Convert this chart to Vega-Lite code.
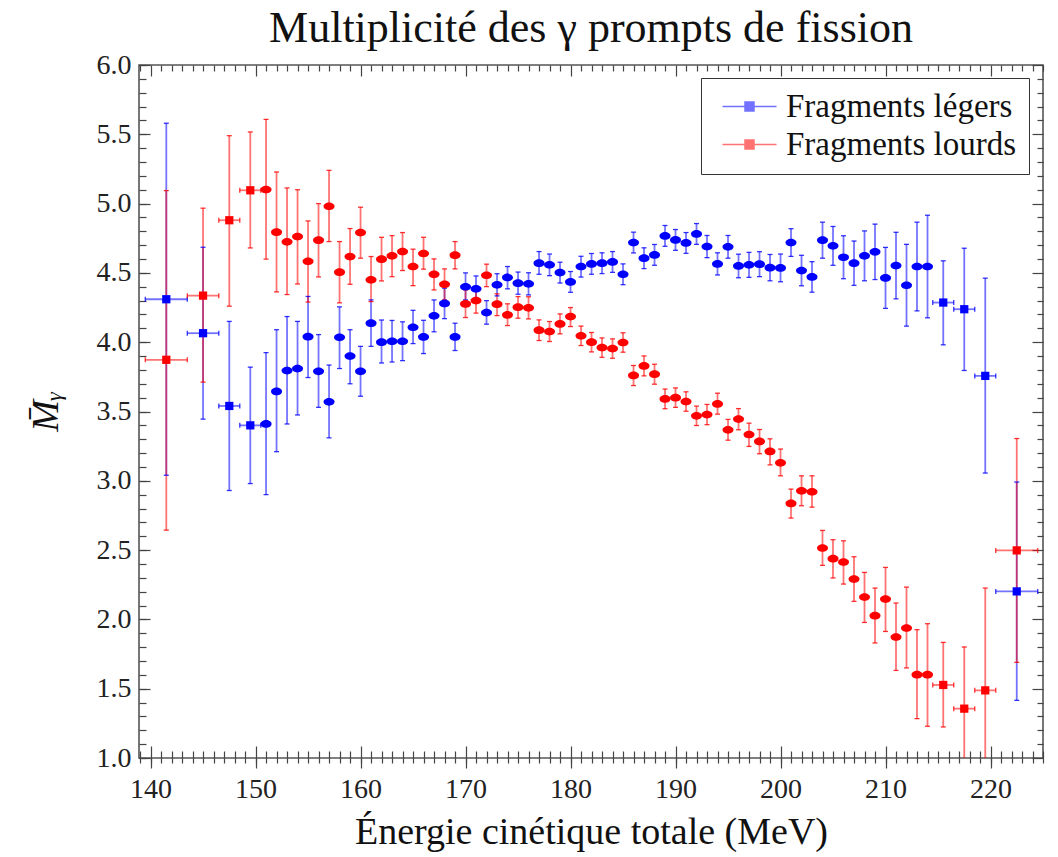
{
  "$schema": "https://vega.github.io/schema/vega-lite/v6.json",
  "autosize": {"type": "none"},
  "padding": {"left": 139, "top": 65, "right": 15, "bottom": 99},
  "width": 904,
  "height": 693,
  "background": "white",
  "title": {"text": "Multiplicité des γ prompts de fission", "font": "Liberation Serif", "fontSize": 44, "fontWeight": "normal", "color": "#111", "anchor": "middle", "baseline": "alphabetic", "offset": 26, "dy": 61},
  "config": {
    "view": {"stroke": "#555", "strokeWidth": 1.6},
    "axis": {"domain": false, "grid": false, "tickColor": "#444", "tickWidth": 1.2, "labelFont": "Liberation Serif", "titleFont": "Liberation Serif", "labelColor": "#222", "titleColor": "#111", "titleFontWeight": "normal", "labelFontSize": 28, "titleFontSize": 38},
    "legend": {"labelFont": "Liberation Serif", "labelFontSize": 33, "labelColor": "#111", "labelLimit": 500}
  },
  "datasets": {
    "d": [
      {"g":"Fragments légers","e":141.5,"m":4.31,"lo":3.04,"hi":5.58,"elo":139.5,"ehi":143.5},
      {"g":"Fragments légers","e":145,"m":4.065,"lo":3.445,"hi":4.685,"elo":143.5,"ehi":146.5},
      {"g":"Fragments légers","e":147.5,"m":3.54,"lo":2.93,"hi":4.15,"elo":146.5,"ehi":148.5},
      {"g":"Fragments légers","e":149.5,"m":3.40,"lo":2.98,"hi":3.82,"elo":148.5,"ehi":150.5},
      {"g":"Fragments légers","e":151,"m":3.41,"lo":2.90,"hi":3.925},
      {"g":"Fragments légers","e":152,"m":3.645,"lo":3.21,"hi":4.09},
      {"g":"Fragments légers","e":153,"m":3.795,"lo":3.41,"hi":4.185},
      {"g":"Fragments légers","e":154,"m":3.81,"lo":3.475,"hi":4.15},
      {"g":"Fragments légers","e":155,"m":4.04,"lo":3.745,"hi":4.33},
      {"g":"Fragments légers","e":156,"m":3.79,"lo":3.53,"hi":4.055},
      {"g":"Fragments légers","e":157,"m":3.57,"lo":3.31,"hi":3.835},
      {"g":"Fragments légers","e":158,"m":4.035,"lo":3.81,"hi":4.255},
      {"g":"Fragments légers","e":159,"m":3.90,"lo":3.70,"hi":4.09},
      {"g":"Fragments légers","e":160,"m":3.79,"lo":3.61,"hi":3.97},
      {"g":"Fragments légers","e":161,"m":4.137,"lo":3.97,"hi":4.305},
      {"g":"Fragments légers","e":162,"m":4.00,"lo":3.85,"hi":4.16},
      {"g":"Fragments légers","e":163,"m":4.007,"lo":3.857,"hi":4.157},
      {"g":"Fragments légers","e":164,"m":4.007,"lo":3.867,"hi":4.147},
      {"g":"Fragments légers","e":165,"m":4.108,"lo":3.99,"hi":4.23},
      {"g":"Fragments légers","e":166,"m":4.038,"lo":3.918,"hi":4.158},
      {"g":"Fragments légers","e":167,"m":4.19,"lo":4.075,"hi":4.305},
      {"g":"Fragments légers","e":168,"m":4.28,"lo":4.17,"hi":4.39},
      {"g":"Fragments légers","e":169,"m":4.038,"lo":3.94,"hi":4.137},
      {"g":"Fragments légers","e":170,"m":4.40,"lo":4.305,"hi":4.50},
      {"g":"Fragments légers","e":171,"m":4.385,"lo":4.293,"hi":4.478},
      {"g":"Fragments légers","e":172,"m":4.214,"lo":4.13,"hi":4.30},
      {"g":"Fragments légers","e":173,"m":4.414,"lo":4.334,"hi":4.494},
      {"g":"Fragments légers","e":174,"m":4.467,"lo":4.385,"hi":4.546},
      {"g":"Fragments légers","e":175,"m":4.426,"lo":4.346,"hi":4.506},
      {"g":"Fragments légers","e":176,"m":4.421,"lo":4.341,"hi":4.501},
      {"g":"Fragments légers","e":177,"m":4.57,"lo":4.49,"hi":4.654},
      {"g":"Fragments légers","e":178,"m":4.558,"lo":4.48,"hi":4.636},
      {"g":"Fragments légers","e":179,"m":4.502,"lo":4.427,"hi":4.577},
      {"g":"Fragments légers","e":180,"m":4.435,"lo":4.36,"hi":4.51},
      {"g":"Fragments légers","e":181,"m":4.546,"lo":4.47,"hi":4.62},
      {"g":"Fragments légers","e":182,"m":4.565,"lo":4.49,"hi":4.64},
      {"g":"Fragments légers","e":183,"m":4.57,"lo":4.495,"hi":4.645},
      {"g":"Fragments légers","e":184,"m":4.579,"lo":4.504,"hi":4.654},
      {"g":"Fragments légers","e":185,"m":4.49,"lo":4.415,"hi":4.565},
      {"g":"Fragments légers","e":186,"m":4.719,"lo":4.644,"hi":4.794},
      {"g":"Fragments légers","e":187,"m":4.606,"lo":4.531,"hi":4.681},
      {"g":"Fragments légers","e":188,"m":4.63,"lo":4.555,"hi":4.705},
      {"g":"Fragments légers","e":189,"m":4.767,"lo":4.692,"hi":4.842},
      {"g":"Fragments légers","e":190,"m":4.738,"lo":4.663,"hi":4.813},
      {"g":"Fragments légers","e":191,"m":4.716,"lo":4.641,"hi":4.791},
      {"g":"Fragments légers","e":192,"m":4.781,"lo":4.706,"hi":4.856},
      {"g":"Fragments légers","e":193,"m":4.69,"lo":4.61,"hi":4.77},
      {"g":"Fragments légers","e":194,"m":4.565,"lo":4.485,"hi":4.645},
      {"g":"Fragments légers","e":195,"m":4.688,"lo":4.606,"hi":4.77},
      {"g":"Fragments légers","e":196,"m":4.55,"lo":4.465,"hi":4.635},
      {"g":"Fragments légers","e":197,"m":4.558,"lo":4.468,"hi":4.648},
      {"g":"Fragments légers","e":198,"m":4.563,"lo":4.473,"hi":4.653},
      {"g":"Fragments légers","e":199,"m":4.538,"lo":4.443,"hi":4.633},
      {"g":"Fragments légers","e":200,"m":4.536,"lo":4.436,"hi":4.636},
      {"g":"Fragments légers","e":201,"m":4.719,"lo":4.619,"hi":4.819},
      {"g":"Fragments légers","e":202,"m":4.517,"lo":4.407,"hi":4.627},
      {"g":"Fragments légers","e":203,"m":4.471,"lo":4.361,"hi":4.581},
      {"g":"Fragments légers","e":204,"m":4.736,"lo":4.606,"hi":4.866},
      {"g":"Fragments légers","e":205,"m":4.695,"lo":4.555,"hi":4.835},
      {"g":"Fragments légers","e":206,"m":4.613,"lo":4.458,"hi":4.768},
      {"g":"Fragments légers","e":207,"m":4.57,"lo":4.41,"hi":4.73},
      {"g":"Fragments légers","e":208,"m":4.623,"lo":4.443,"hi":4.803},
      {"g":"Fragments légers","e":209,"m":4.652,"lo":4.452,"hi":4.852},
      {"g":"Fragments légers","e":210,"m":4.464,"lo":4.244,"hi":4.684},
      {"g":"Fragments légers","e":211,"m":4.553,"lo":4.313,"hi":4.793},
      {"g":"Fragments légers","e":212,"m":4.411,"lo":4.116,"hi":4.706},
      {"g":"Fragments légers","e":213,"m":4.546,"lo":4.226,"hi":4.866},
      {"g":"Fragments légers","e":214,"m":4.546,"lo":4.176,"hi":4.916},
      {"g":"Fragments légers","e":215.5,"m":4.286,"lo":3.981,"hi":4.587,"elo":214.5,"ehi":216.5},
      {"g":"Fragments légers","e":217.5,"m":4.238,"lo":3.796,"hi":4.678,"elo":216.5,"ehi":218.5},
      {"g":"Fragments légers","e":219.5,"m":3.757,"lo":3.056,"hi":4.462,"elo":218.5,"ehi":220.5},
      {"g":"Fragments légers","e":222.5,"m":2.202,"lo":1.416,"hi":2.991,"elo":220.5,"ehi":224.5},
      {"g":"Fragments lourds","e":141.5,"m":3.873,"lo":2.644,"hi":5.094,"elo":139.5,"ehi":143.5},
      {"g":"Fragments lourds","e":145,"m":4.336,"lo":3.712,"hi":4.967,"elo":143.5,"ehi":146.5},
      {"g":"Fragments lourds","e":147.5,"m":4.88,"lo":4.26,"hi":5.49,"elo":146.5,"ehi":148.5},
      {"g":"Fragments lourds","e":149.5,"m":5.096,"lo":4.68,"hi":5.517,"elo":148.5,"ehi":150.5},
      {"g":"Fragments lourds","e":151,"m":5.101,"lo":4.599,"hi":5.608},
      {"g":"Fragments lourds","e":152,"m":4.794,"lo":4.363,"hi":5.228},
      {"g":"Fragments lourds","e":153,"m":4.724,"lo":4.344,"hi":5.113},
      {"g":"Fragments lourds","e":154,"m":4.762,"lo":4.42,"hi":5.10},
      {"g":"Fragments lourds","e":155,"m":4.584,"lo":4.29,"hi":4.875},
      {"g":"Fragments lourds","e":156,"m":4.736,"lo":4.471,"hi":5.0},
      {"g":"Fragments lourds","e":157,"m":4.981,"lo":4.726,"hi":5.24},
      {"g":"Fragments lourds","e":158,"m":4.505,"lo":4.284,"hi":4.726},
      {"g":"Fragments lourds","e":159,"m":4.618,"lo":4.418,"hi":4.82},
      {"g":"Fragments lourds","e":160,"m":4.791,"lo":4.606,"hi":4.974},
      {"g":"Fragments lourds","e":161,"m":4.45,"lo":4.293,"hi":4.618},
      {"g":"Fragments lourds","e":162,"m":4.599,"lo":4.442,"hi":4.757},
      {"g":"Fragments lourds","e":163,"m":4.623,"lo":4.473,"hi":4.769},
      {"g":"Fragments lourds","e":164,"m":4.654,"lo":4.517,"hi":4.791},
      {"g":"Fragments lourds","e":165,"m":4.546,"lo":4.408,"hi":4.671},
      {"g":"Fragments lourds","e":166,"m":4.64,"lo":4.527,"hi":4.757},
      {"g":"Fragments lourds","e":167,"m":4.49,"lo":4.377,"hi":4.601},
      {"g":"Fragments lourds","e":168,"m":4.418,"lo":4.305,"hi":4.529},
      {"g":"Fragments lourds","e":169,"m":4.628,"lo":4.529,"hi":4.726},
      {"g":"Fragments lourds","e":170,"m":4.276,"lo":4.178,"hi":4.377},
      {"g":"Fragments lourds","e":171,"m":4.30,"lo":4.21,"hi":4.394},
      {"g":"Fragments lourds","e":172,"m":4.483,"lo":4.401,"hi":4.563},
      {"g":"Fragments lourds","e":173,"m":4.274,"lo":4.192,"hi":4.349},
      {"g":"Fragments lourds","e":174,"m":4.197,"lo":4.12,"hi":4.277},
      {"g":"Fragments lourds","e":175,"m":4.253,"lo":4.173,"hi":4.329},
      {"g":"Fragments lourds","e":176,"m":4.248,"lo":4.168,"hi":4.328},
      {"g":"Fragments lourds","e":177,"m":4.087,"lo":4.012,"hi":4.161},
      {"g":"Fragments lourds","e":178,"m":4.077,"lo":4.005,"hi":4.149},
      {"g":"Fragments lourds","e":179,"m":4.132,"lo":4.06,"hi":4.204},
      {"g":"Fragments lourds","e":180,"m":4.185,"lo":4.113,"hi":4.25},
      {"g":"Fragments lourds","e":181,"m":4.046,"lo":3.976,"hi":4.116},
      {"g":"Fragments lourds","e":182,"m":4.0,"lo":3.93,"hi":4.07},
      {"g":"Fragments lourds","e":183,"m":3.961,"lo":3.891,"hi":4.031},
      {"g":"Fragments lourds","e":184,"m":3.954,"lo":3.884,"hi":4.024},
      {"g":"Fragments lourds","e":185,"m":3.998,"lo":3.928,"hi":4.068},
      {"g":"Fragments lourds","e":186,"m":3.76,"lo":3.687,"hi":3.832},
      {"g":"Fragments lourds","e":187,"m":3.829,"lo":3.757,"hi":3.901},
      {"g":"Fragments lourds","e":188,"m":3.769,"lo":3.697,"hi":3.841},
      {"g":"Fragments lourds","e":189,"m":3.591,"lo":3.52,"hi":3.662},
      {"g":"Fragments lourds","e":190,"m":3.60,"lo":3.53,"hi":3.67},
      {"g":"Fragments lourds","e":191,"m":3.572,"lo":3.502,"hi":3.642},
      {"g":"Fragments lourds","e":192,"m":3.469,"lo":3.399,"hi":3.539},
      {"g":"Fragments lourds","e":193,"m":3.478,"lo":3.405,"hi":3.551},
      {"g":"Fragments lourds","e":194,"m":3.555,"lo":3.481,"hi":3.632},
      {"g":"Fragments lourds","e":195,"m":3.368,"lo":3.293,"hi":3.443},
      {"g":"Fragments lourds","e":196,"m":3.445,"lo":3.368,"hi":3.521},
      {"g":"Fragments lourds","e":197,"m":3.334,"lo":3.248,"hi":3.416},
      {"g":"Fragments lourds","e":198,"m":3.284,"lo":3.195,"hi":3.37},
      {"g":"Fragments lourds","e":199,"m":3.212,"lo":3.115,"hi":3.303},
      {"g":"Fragments lourds","e":200,"m":3.13,"lo":3.036,"hi":3.229},
      {"g":"Fragments lourds","e":201,"m":2.837,"lo":2.731,"hi":2.94},
      {"g":"Fragments lourds","e":202,"m":2.928,"lo":2.82,"hi":3.036},
      {"g":"Fragments lourds","e":203,"m":2.921,"lo":2.81,"hi":3.036},
      {"g":"Fragments lourds","e":204,"m":2.515,"lo":2.39,"hi":2.642},
      {"g":"Fragments lourds","e":205,"m":2.438,"lo":2.299,"hi":2.575},
      {"g":"Fragments lourds","e":206,"m":2.414,"lo":2.255,"hi":2.567},
      {"g":"Fragments lourds","e":207,"m":2.291,"lo":2.13,"hi":2.452},
      {"g":"Fragments lourds","e":208,"m":2.161,"lo":1.978,"hi":2.339},
      {"g":"Fragments lourds","e":209,"m":2.027,"lo":1.83,"hi":2.226},
      {"g":"Fragments lourds","e":210,"m":2.147,"lo":1.913,"hi":2.375},
      {"g":"Fragments lourds","e":211,"m":1.873,"lo":1.632,"hi":2.118},
      {"g":"Fragments lourds","e":212,"m":1.938,"lo":1.65,"hi":2.233},
      {"g":"Fragments lourds","e":213,"m":1.601,"lo":1.284,"hi":1.926},
      {"g":"Fragments lourds","e":214,"m":1.601,"lo":1.229,"hi":1.969},
      {"g":"Fragments lourds","e":215.5,"m":1.527,"lo":1.224,"hi":1.834,"elo":214.5,"ehi":216.5},
      {"g":"Fragments lourds","e":217.5,"m":1.356,"lo":0.91,"hi":1.801,"elo":216.5,"ehi":218.5},
      {"g":"Fragments lourds","e":219.5,"m":1.488,"lo":0.75,"hi":2.226,"elo":218.5,"ehi":220.5},
      {"g":"Fragments lourds","e":222.5,"m":2.498,"lo":1.69,"hi":3.305,"elo":220.5,"ehi":224.5}
    ]
  },
  "data": {"name": "d"},
  "resolve": {"axis": {"x": "independent", "y": "independent"}},
  "layer": [
    {
      "mark": {"type": "rule", "strokeWidth": 1.8, "opacity": 0.55, "clip": true},
      "encoding": {
        "x": {"field": "e", "type": "quantitative", "scale": {"domain": [138.9, 225], "nice": false, "zero": false},
              "axis": {"orient": "bottom", "values": [139,140,141,142,143,144,145,146,147,148,149,150,151,152,153,154,155,156,157,158,159,160,161,162,163,164,165,166,167,168,169,170,171,172,173,174,175,176,177,178,179,180,181,182,183,184,185,186,187,188,189,190,191,192,193,194,195,196,197,198,199,200,201,202,203,204,205,206,207,208,209,210,211,212,213,214,215,216,217,218,219,220,221,222,223,224,225],
                       "tickSize": {"condition": {"test": "datum.value % 10 === 0", "value": -12}, "value": -7}, "labels": false, "title": null}},
        "y": {"field": "lo", "type": "quantitative", "scale": {"domain": [1, 6], "nice": false, "zero": false},
              "axis": {"orient": "left", "values": [1,1.1,1.2,1.3,1.4,1.5,1.6,1.7,1.8,1.9,2,2.1,2.2,2.3,2.4,2.5,2.6,2.7,2.8,2.9,3,3.1,3.2,3.3,3.4,3.5,3.6,3.7,3.8,3.9,4,4.1,4.2,4.3,4.4,4.5,4.6,4.7,4.8,4.9,5,5.1,5.2,5.3,5.4,5.5,5.6,5.7,5.8,5.9,6],
                       "tickSize": -7, "labels": false, "title": null}},
        "y2": {"field": "hi"},
        "color": {"field": "g", "type": "nominal", "scale": {"domain": ["Fragments légers", "Fragments lourds"], "range": ["#0000ff", "#ff0000"]}}
      }
    },
    {
      "transform": [{"filter": "datum.elo != null"}],
      "mark": {"type": "rule", "strokeWidth": 1.8, "opacity": 0.55, "clip": true},
      "encoding": {
        "x": {"field": "elo", "type": "quantitative",
              "axis": {"orient": "top", "values": [139,140,141,142,143,144,145,146,147,148,149,150,151,152,153,154,155,156,157,158,159,160,161,162,163,164,165,166,167,168,169,170,171,172,173,174,175,176,177,178,179,180,181,182,183,184,185,186,187,188,189,190,191,192,193,194,195,196,197,198,199,200,201,202,203,204,205,206,207,208,209,210,211,212,213,214,215,216,217,218,219,220,221,222,223,224,225],
                       "tickSize": {"condition": {"test": "datum.value % 10 === 0", "value": -11}, "value": -6}, "labels": false, "title": null}},
        "x2": {"field": "ehi"},
        "y": {"field": "m", "type": "quantitative",
              "axis": {"orient": "right", "values": [1,1.1,1.2,1.3,1.4,1.5,1.6,1.7,1.8,1.9,2,2.1,2.2,2.3,2.4,2.5,2.6,2.7,2.8,2.9,3,3.1,3.2,3.3,3.4,3.5,3.6,3.7,3.8,3.9,4,4.1,4.2,4.3,4.4,4.5,4.6,4.7,4.8,4.9,5,5.1,5.2,5.3,5.4,5.5,5.6,5.7,5.8,5.9,6],
                       "tickSize": {"condition": {"test": "abs(datum.value * 2 - round(datum.value * 2)) < 0.01", "value": -11}, "value": -6}, "labels": false, "title": null}},
        "color": {"field": "g", "type": "nominal"}
      }
    },
    {
      "transform": [{"fold": ["lo", "hi"], "as": ["k", "yc"]}],
      "mark": {"type": "tick", "orient": "horizontal", "size": 5, "thickness": 1.3, "opacity": 0.8, "clip": true},
      "encoding": {
        "x": {"field": "e", "type": "quantitative",
              "axis": {"orient": "bottom", "values": [139,140,141,142,143,144,145,146,147,148,149,150,151,152,153,154,155,156,157,158,159,160,161,162,163,164,165,166,167,168,169,170,171,172,173,174,175,176,177,178,179,180,181,182,183,184,185,186,187,188,189,190,191,192,193,194,195,196,197,198,199,200,201,202,203,204,205,206,207,208,209,210,211,212,213,214,215,216,217,218,219,220,221,222,223,224,225],
                       "tickSize": 5, "labels": false, "title": null}},
        "y": {"field": "yc", "type": "quantitative", "axis": null},
        "color": {"field": "g", "type": "nominal"}
      }
    },
    {
      "transform": [{"filter": "datum.elo != null"}, {"fold": ["elo", "ehi"], "as": ["k", "xc"]}],
      "mark": {"type": "tick", "orient": "vertical", "size": 5, "thickness": 1.3, "opacity": 0.8, "clip": true},
      "encoding": {
        "x": {"field": "xc", "type": "quantitative", "axis": null},
        "y": {"field": "m", "type": "quantitative", "axis": null},
        "color": {"field": "g", "type": "nominal"}
      }
    },
    {
      "mark": {"type": "point", "filled": true, "opacity": 1, "size": 121, "clip": true},
      "encoding": {
        "x": {"field": "e", "type": "quantitative",
              "axis": {"orient": "bottom", "values": [140,150,160,170,180,190,200,210,220], "tickSize": 10, "labelPadding": 7,
                       "title": "Énergie cinétique totale (MeV)", "titleX": 452, "titleY": 85, "titleAlign": "center", "titleBaseline": "alphabetic"}},
        "y": {"field": "m", "type": "quantitative",
              "axis": {"orient": "left", "values": [1,1.5,2,2.5,3,3.5,4,4.5,5,5.5,6], "format": ".1f", "tickSize": -11, "labelPadding": 19,
                       "title": "M̄ᵧ", "titleFontStyle": "italic", "titleFontSize": 38, "titleAngle": -90, "titleX": -93, "titleY": 346, "titleAlign": "center", "titleBaseline": "middle"}},
        "color": {"field": "g", "type": "nominal", "title": null,
                  "legend": {"orient": "none", "legendX": 562, "legendY": 13, "padding": 12, "strokeColor": "#333", "fillColor": "white",
                             "symbolType": "M-3,0L3,0M-0.5,-0.5L0.5,-0.5L0.5,0.5L-0.5,0.5Z", "symbolSize": 324,
                             "symbolOffset": 20, "labelOffset": 20, "rowPadding": 4,
                             "encode": {"symbols": {"update": {"stroke": {"scale": "color", "field": "value"}, "fill": {"scale": "color", "field": "value"}, "strokeWidth": {"value": 1.6}, "opacity": {"value": 1}, "fillOpacity": {"value": 1}, "strokeOpacity": {"value": 0.6}}}}}},
        "shape": {"condition": {"test": "datum.elo != null", "value": "M-0.75,-0.75H0.75V0.75H-0.75Z"}, "value": "M-1,0A1,0.7 0 1,1 1,0A1,0.7 0 1,1 -1,0Z"}
      }
    }
  ]
}
